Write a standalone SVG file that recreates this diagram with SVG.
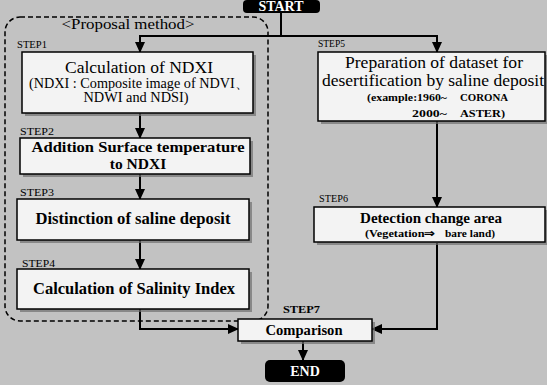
<svg xmlns="http://www.w3.org/2000/svg" width="547" height="385" viewBox="0 0 547 385">
<defs>
<marker id="arr" markerUnits="userSpaceOnUse" markerWidth="11" markerHeight="10" refX="10" refY="5" orient="auto">
<path d="M0,0 L11,5 L0,10 z" fill="#000"/>
</marker>
<style>
.bg{fill:#c2c2c2}
.box{fill:#f3f3f3;stroke:#000;stroke-width:1.5}
.sh{fill:#6f6f6f;opacity:0.7}
.term{fill:#000}
.t{font-family:"Liberation Serif","Times New Roman",serif;fill:#000}
.b{font-weight:bold}
.small{font-size:10.5px;font-weight:bold}
.step{font-size:10px}
.wt{fill:#fff;font-family:"Liberation Serif","Times New Roman",serif;font-weight:bold;font-size:14px}
.con{fill:none;stroke:#000;stroke-width:2}
.dash{fill:none;stroke:#000;stroke-width:1.5;stroke-dasharray:5 3}
</style>
</defs>
<rect class="bg" x="0" y="0" width="547" height="385"/>

<g id="proposal-frame">
<rect class="dash" x="5" y="17" width="263" height="304" rx="15"/>
<text class="t" x="128" y="29" font-size="14.5" text-anchor="middle" textLength="133" lengthAdjust="spacingAndGlyphs">&lt;Proposal method&gt;</text>
</g>

<g id="connectors">
<path class="con" d="M281,13 V36"/>
<path class="con" d="M139,36 H438"/>
<path class="con" d="M140,36 V52" marker-end="url(#arr)"/>
<path class="con" d="M437,36 V52" marker-end="url(#arr)"/>
<path class="con" d="M140,113 V138" marker-end="url(#arr)"/>
<path class="con" d="M140,174 V199" marker-end="url(#arr)"/>
<path class="con" d="M140,240 V269" marker-end="url(#arr)"/>
<path class="con" d="M140,309 V329 H238" marker-end="url(#arr)"/>
<path class="con" d="M437,121 V207" marker-end="url(#arr)"/>
<path class="con" d="M437,243 V329 H372" marker-end="url(#arr)"/>
<path class="con" d="M303,341 V360" marker-end="url(#arr)"/>
</g>

<g id="start">
<rect class="term" x="243" y="0" width="77" height="13" rx="4"/>
<text class="wt" x="281" y="10.5" font-size="10" text-anchor="middle">START</text>
</g>

<g id="step1">
<text class="t step" x="17" y="48" textLength="30" lengthAdjust="spacingAndGlyphs">STEP1</text>
<rect class="sh" x="25" y="55" width="231" height="61"/>
<rect class="box" x="22" y="52" width="231" height="61"/>
<text class="t" font-size="17.5" x="139" y="73" text-anchor="middle" textLength="148" lengthAdjust="spacingAndGlyphs">Calculation of NDXI</text>
<text class="t" font-size="14" x="139" y="88" text-anchor="middle" textLength="220" lengthAdjust="spacingAndGlyphs">(NDXI : Composite image of NDVI、</text>
<text class="t" font-size="14" x="136" y="102" text-anchor="middle" textLength="105" lengthAdjust="spacingAndGlyphs">NDWI and NDSI)</text>
</g>

<g id="step2">
<text class="t step" x="20" y="135" textLength="34" lengthAdjust="spacingAndGlyphs">STEP2</text>
<rect class="sh" x="23" y="141" width="230" height="36"/>
<rect class="box" x="20" y="138" width="230" height="36"/>
<text class="t b" font-size="15.5" x="138" y="152" text-anchor="middle" textLength="213" lengthAdjust="spacingAndGlyphs">Addition Surface temperature</text>
<text class="t b" font-size="15.5" x="138" y="169" text-anchor="middle">to NDXI</text>
</g>

<g id="step3">
<text class="t step" x="20" y="196" textLength="34" lengthAdjust="spacingAndGlyphs">STEP3</text>
<rect class="sh" x="20" y="202" width="232" height="41"/>
<rect class="box" x="17" y="199" width="232" height="41"/>
<text class="t b" font-size="16.5" x="133" y="224" text-anchor="middle" textLength="195" lengthAdjust="spacingAndGlyphs">Distinction of saline deposit</text>
</g>

<g id="step4">
<text class="t step" x="22" y="267" textLength="33" lengthAdjust="spacingAndGlyphs">STEP4</text>
<rect class="sh" x="20" y="272" width="232" height="40"/>
<rect class="box" x="17" y="269" width="232" height="40"/>
<text class="t b" font-size="16.5" x="134" y="294" text-anchor="middle" textLength="202" lengthAdjust="spacingAndGlyphs">Calculation of Salinity Index</text>
</g>

<g id="step5">
<text class="t step" x="318" y="47" textLength="27" lengthAdjust="spacingAndGlyphs">STEP5</text>
<rect class="sh" x="321" y="55" width="227" height="69"/>
<rect class="box" x="318" y="52" width="227" height="69"/>
<text class="t" font-size="16.5" x="434" y="68" text-anchor="middle" textLength="178" lengthAdjust="spacingAndGlyphs">Preparation of dataset for</text>
<text class="t" font-size="16.5" x="433" y="86" text-anchor="middle" textLength="222" lengthAdjust="spacingAndGlyphs">desertification by saline deposit</text>
<text class="t small" x="367" y="101" textLength="80" lengthAdjust="spacingAndGlyphs">(example:1960~</text>
<text class="t small" x="460" y="101" textLength="48" lengthAdjust="spacingAndGlyphs">CORONA</text>
<text class="t small" x="412" y="117" textLength="35" lengthAdjust="spacingAndGlyphs">2000~</text>
<text class="t small" x="460" y="117" textLength="45" lengthAdjust="spacingAndGlyphs">ASTER)</text>
</g>

<g id="step6">
<text class="t step" x="319" y="202" textLength="29" lengthAdjust="spacingAndGlyphs">STEP6</text>
<rect class="sh" x="317" y="210" width="231" height="35"/>
<rect class="box" x="314" y="207" width="231" height="35"/>
<text class="t b" font-size="15" x="431" y="223" text-anchor="middle" textLength="142" lengthAdjust="spacingAndGlyphs">Detection change area</text>
<text class="t small" font-size="10" x="365" y="237" textLength="70" lengthAdjust="spacingAndGlyphs">(Vegetation⇒</text>
<text class="t small" font-size="10" x="445" y="237" textLength="50" lengthAdjust="spacingAndGlyphs">bare land)</text>
</g>

<g id="step7">
<text class="t step b" x="283" y="313" textLength="37" lengthAdjust="spacingAndGlyphs">STEP7</text>
<rect class="sh" x="241" y="322" width="134" height="22"/>
<rect class="box" x="238" y="319" width="134" height="22"/>
<text class="t b" font-size="15" x="304" y="335" text-anchor="middle" textLength="77" lengthAdjust="spacingAndGlyphs">Comparison</text>
</g>

<g id="end">
<rect class="term" x="265" y="360" width="80" height="22" rx="5"/>
<text class="wt" x="305" y="376" text-anchor="middle">END</text>
</g>
</svg>
